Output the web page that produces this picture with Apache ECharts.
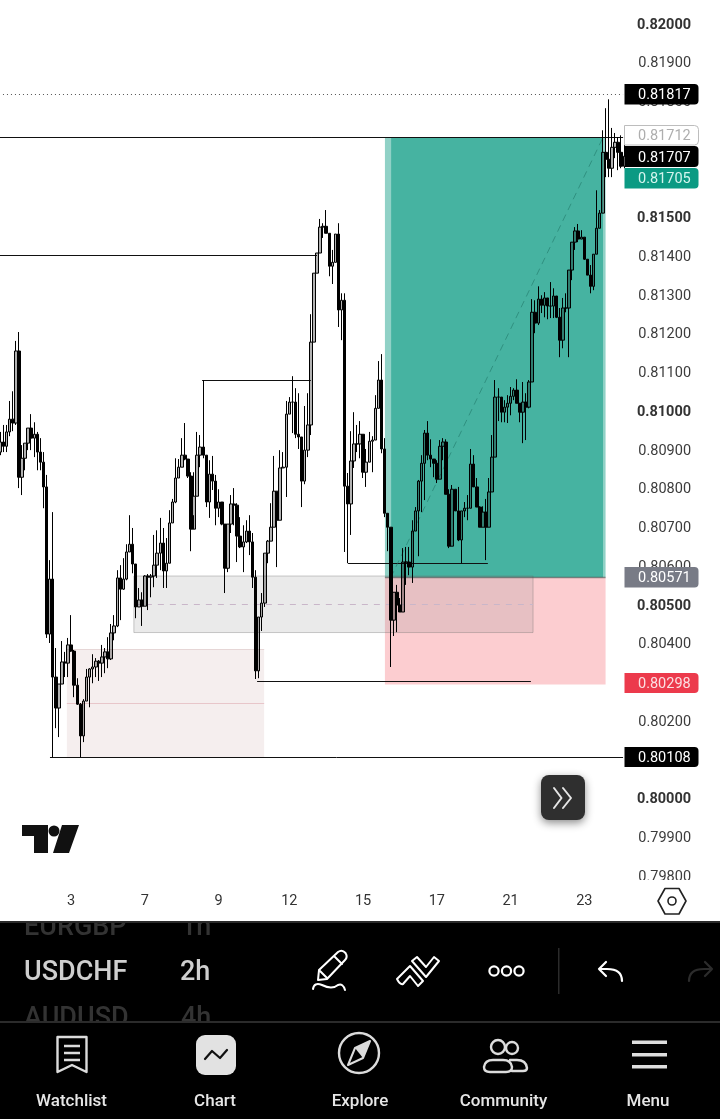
<!DOCTYPE html>
<html><head><meta charset="utf-8">
<style>html,body{margin:0;padding:0;background:#fff}#c{width:720px;height:1119px}</style>
<script src="https://cdn.jsdelivr.net/npm/echarts@6/dist/echarts.min.js"></script>
</head><body><div id="c"></div>
<script>
const POINT = 1e-5;
const firstOpen = 80892;
const closes = [80918,80907,80944,80977,80967,81153,80827,80876,80915,80954,
80928,80938,80892,80866,80802,80422,80564,80311,80231,80293,
80350,80347,80394,80378,80290,80241,80159,80249,80311,80332,
80337,80352,80347,80363,80376,80358,80425,80443,80567,80538,
80564,80634,80654,80603,80492,80510,80494,80572,80569,80572,
80600,80631,80657,80585,80605,80709,80763,80825,80853,80884,
80874,80830,80693,80778,80884,80905,80884,80763,80835,80817,
80747,80763,80706,80592,80706,80758,80755,80675,80647,80660,
80688,80660,80569,80327,80466,80502,80631,80662,80698,80791,
80716,80851,80853,80990,81021,81021,80938,80931,80817,80897,
80962,81176,81354,81406,81473,81475,81457,81372,81382,81455,
81259,81284,80804,80758,80869,80913,80913,80938,80840,80866,
80920,80923,81005,81078,80900,80734,80698,80458,80530,80497,
80479,80608,80608,80595,80688,80740,80817,80863,80941,80884,
80874,80863,80822,80907,80918,80783,80649,80796,80740,80665,
80740,80747,80747,80861,80802,80750,80698,80737,80698,80789,
80879,81034,81034,80995,81008,81018,81036,81052,81018,80995,
81021,81008,81073,81253,81225,81287,81271,81290,81269,81269,
81295,81240,81181,81264,81264,81362,81434,81463,81442,81447,
81390,81349,81320,81403,81470,81509,81666,81648,81625,81679,
81692,81666,81630,81656];
const highs = [80944,80962,80962,81024,81049,81179,81202,80910,80915,80954,
80990,80969,80944,80928,80892,80833,80613,80737,80386,80293,
80404,80376,80412,80471,80381,80308,80244,80254,80332,80334,
80370,80360,80355,80394,80386,80414,80448,80471,80587,80600,
80618,80654,80729,80696,80603,80541,80530,80574,80577,80577,
80678,80690,80722,80696,80670,80742,80771,80876,80874,80928,
80967,80874,80840,80840,80944,80936,81078,80884,80871,80882,
80833,80796,80763,80706,80706,80781,80799,80760,80724,80703,
80716,80729,80683,80587,80466,80528,80631,80665,80760,80882,
80791,80897,80892,81024,81034,81088,81057,81044,80931,81011,
81044,81248,81354,81406,81494,81483,81517,81457,81414,81455,
81483,81302,81302,80838,80946,80995,80962,80972,80938,80900,
80944,80933,81039,81127,81145,80928,80734,80698,80530,80549,
80515,80644,80647,80647,80716,80750,80820,80884,80949,80972,
80925,80874,80871,80923,80928,80925,80796,80807,80796,80802,
80740,80763,80781,80900,80884,80825,80752,80752,80771,80825,
80936,81078,81057,81034,81026,81039,81060,81057,81080,81018,
81073,81044,81078,81287,81284,81320,81297,81305,81290,81331,
81315,81295,81264,81290,81302,81362,81434,81473,81481,81465,
81447,81390,81375,81403,81568,81517,81723,81780,81803,81729,
81716,81705,81710,81710];
const lows = [80884,80892,80892,80933,80946,80962,80799,80781,80845,80897,
80897,80879,80845,80845,80747,80412,80399,80104,80179,80156,
80293,80311,80311,80376,80259,80239,80104,80143,80249,80233,
80295,80311,80301,80311,80321,80334,80355,80406,80440,80458,
80536,80561,80634,80579,80463,80492,80443,80494,80484,80517,
80543,80567,80587,80541,80541,80605,80709,80760,80825,80853,
80871,80825,80636,80729,80778,80853,80876,80750,80722,80794,
80703,80724,80703,80528,80582,80683,80703,80608,80644,80582,
80657,80626,80541,80306,80308,80430,80492,80605,80662,80698,
80595,80716,80851,80776,80990,80941,80928,80900,80750,80809,
80879,80936,81176,81354,81406,81445,81457,81346,81326,81382,
81215,81181,80634,80605,80678,80851,80892,80876,80825,80802,
80866,80840,80923,81005,80889,80724,80636,80337,80417,80427,
80479,80479,80549,80574,80554,80688,80623,80737,80768,80871,
80853,80827,80812,80822,80871,80783,80644,80649,80740,80662,
80605,80724,80716,80747,80802,80750,80698,80698,80613,80698,
80789,80879,80972,80969,80969,80967,80987,81026,81018,80969,
80915,80923,81005,81073,81199,81220,81251,81240,81235,81238,
81238,81238,81137,81160,81253,81137,81336,81414,81434,81442,
81388,81349,81302,81310,81403,81470,81509,81602,81602,81602,
81651,81620,81625,81625];
const opens = [firstOpen].concat(closes.slice(0, -1));

const dayLabels = {23:'3',47:'7',71:'9',94:'12',118:'15',142:'17',166:'21',190:'23'};
const slotCount = 234;
const categories = Array.from({length: slotCount}, (_, i) => String(i));
const candles = closes.map((c, i) => [opens[i]*POINT, c*POINT, lows[i]*POINT, highs[i]*POINT].map(v => +v.toFixed(5)));

const entryPrice = 0.80568, targetPrice = 0.81705, stopPrice = 0.80292;
const wickExtreme = 0.81817, lastLow = 0.80104;
const levelLines = [[-0.5,103,0.81401],[65.6,101,0.81078],[113.1,158.6,0.80606],[83.5,172.6,0.80301],[16.1,202.6,lastLow],[-0.5,202.6,0.81704]];
const diagonal = [[127,entryPrice],[196.1,targetPrice]];
const tagTexts = ['0.81817','0.81712','0.81707','0.81705','0.80571','0.80298','0.80108'];

const hl = levelLines.map(l => [{coord:[l[0],l[2]],lineStyle:{color:'#111',width:1,type:'solid'}},{coord:[l[1],l[2]]}]);
hl.push([{coord:[-0.5,wickExtreme],lineStyle:{color:'#555',width:1,type:[1,3]}},{coord:[202.6,wickExtreme]}]);
hl.push([{coord:[21.6,0.80243],lineStyle:{color:'#e8c6ca',width:1,type:'solid'}},{coord:[85.8,0.80243]}]);
hl.push([{coord:[21.6,0.80383],lineStyle:{color:'#e6d6d6',width:1,type:'solid'}},{coord:[85.8,0.80383]}]);
hl.push([{coord:[43.4,0.80500],lineStyle:{color:'#c9b6c9',width:1,type:[6,6]}},{coord:[173.3,0.80500]}]);

const area = (x1,x2,y1,y2,style) => [{coord:[x1,y1],itemStyle:style},{coord:[x2,y2]}];
const boxes = [
  area(21.6,85.8,lastLow,0.80383,{color:'#f5eeee'}),
  area(125.1,127.1,entryPrice,targetPrice,{color:'rgba(8,153,129,0.45)'}),
  area(127.1,196.1,entryPrice,targetPrice,{color:'rgba(8,153,129,0.75)'}),
  area(196.1,196.9,entryPrice,targetPrice,{color:'rgba(8,153,129,0.45)'}),
  area(125.1,196.9,stopPrice,entryPrice,{color:'rgba(242,54,69,0.25)'}),
  area(43.4,173.3,0.80426,0.80572,{color:'rgba(128,128,128,0.17)',borderColor:'rgba(110,110,110,0.35)',borderWidth:1}),
  area(125.1,196.9,0.80566,0.80570,{color:'rgba(70,70,70,0.55)'})
];

const R = 'Roboto, sans-serif';
let shapeId = 0;
function shapeFor(d){const name='icon'+(shapeId++);echarts.graphic.registerShape(name,echarts.graphic.extendPath(d,{}));return name;}
function txt(t,x,y,fill,font,align,z){return {type:'text',z:z,silent:true,style:{text:t,x:x,y:y,fill:fill,font:font,align:align||'left',verticalAlign:'middle',textAlign:align||'left',textVerticalAlign:'middle'}};}
function rect(x,y,w,h,fill,z,r,extra){return {type:'rect',z:z,silent:true,shape:{x:x,y:y,width:w,height:h,r:r||0},style:Object.assign({fill:fill},extra||{})};}
function path(d,stroke,lw,z,fill,cap){return {type:shapeFor(d),z:z,silent:true,style:{fill:fill||'none',stroke:stroke||'none',lineWidth:lw||0,lineCap:cap||'round',lineJoin:'round'}};}
function circ(cx,cy,r,stroke,lw,z,fill){return {type:'circle',z:z,silent:true,shape:{cx:cx,cy:cy,r:r},style:{fill:fill||'none',stroke:stroke,lineWidth:lw}};}

const tagStyles = [
 [84,20.5,'#000','#fff'],[125.5,19.5,'#fff','#aeaeae'],[146,21,'#000','#fff'],[168,20.5,'#0b9a83','#d4f5ee'],
 [567,20.5,'#787b86','#fff'],[673,20,'#ec3a4c','#fbdfe2'],[747,20,'#000','#fff']];
const TAGZ = 20;
const g = [];
tagTexts.forEach((t,i)=>{
  const s = tagStyles[i];
  const extra = i===1 ? {stroke:'#bdbdbd',lineWidth:1} : {};
  g.push(rect(624.5,s[0],74,s[1],s[2],TAGZ,[0,4,4,0],extra));
  g.push(txt(t,638,s[0]+s[1]/2+1.5,s[3],'14.5px '+R,'left',TAGZ+1));
});
// button + logo
g.push(rect(541,775,44,45,'#2f2f2f',TAGZ,8,{shadowBlur:9,shadowColor:'rgba(0,0,0,0.45)',shadowOffsetY:3}));
g.push(path('M554 788 L561.5 798 L554 808 M563 788 L571 798 L563 808','#e6e6e6',2,TAGZ+1));
g.push(path('M22 825 H48 V853 H34 V836 H22 Z M62 825 H79 L69 853 H53 Z',null,0,TAGZ,'#111'));
g.push(circ(54,831,5.5,'#111',0,TAGZ,'#111'));
// hexagon settings icon
g.push(path('M658 901 L665 888.5 H679 L686 901 L679 914 H665 Z','#222',1.6,41));
g.push(circ(672,901,4,'#222',1.6,41));
// dark toolbar
g.push(rect(0,921,720,198,'#000',30));
g.push(txt('EURGBP',24,928,'#333','500 27px '+R,'left',31));
g.push(txt('1h',181,928,'#333','500 27px '+R,'left',31));
g.push(txt('AUDUSD',24,1019,'#333','500 27px '+R,'left',31));
g.push(txt('4h',181,1019,'#333','500 27px '+R,'left',31));
g.push(rect(0,880,720,41,'#fff',32));
g.push(rect(0,1022,720,97,'#000',32));
g.push(rect(0,921,720,2,'#2b2b2b',33));
g.push(rect(0,1021,720,2,'#2b2b2b',33));
g.push(txt('USDCHF',24,973.5,'#cfcfcf','500 27px '+R,'left',33));
g.push(txt('2h',180,973.5,'#cfcfcf','500 27px '+R,'left',33));
// tool icons
g.push(path('M318 980 L319 970 L338 952 Q342 949 345.5 953 Q348 957 345 960 L327 979 Z M334 956 L342 964 M320 971 L327 978','#fff',2,33));
g.push(path('M313 989 Q314 982 322 985 Q332 990 338 985 Q343 983 345 990','#fff',2,33));
g.push(path('M397 979 L410 966 L423 981 L418 986 L410 976 L403 984 Q400 985 397 979 Z','#fff',2,33));
g.push(path('M417 957 L426 967 L434 957 L439 961 L426 977 L412 961 Z','#fff',2,33));
g.push(circ(494,971,4.6,'#fff',2.2,33)); g.push(circ(506.5,971,4.6,'#fff',2.2,33)); g.push(circ(519,971,4.6,'#fff',2.2,33));
g.push(rect(558,948,1.5,46,'#2b2b2b',33));
g.push(path('M622 981 Q622 969 607 969 L599 969 M606 962 L599 969 L606 976','#fff',2.2,33));
g.push(path('M689 981 Q689 969 704 969 L712 969 M705 962 L712 969 L705 976','#2c2c2c',2.2,33));
// nav icons
g.push(path('M57.5 1037 H86.5 V1072 L72 1065 L57.5 1072 Z M64 1046 H80 M64 1053 H80 M64 1060 H80','#dcdcdc',2.4,33,'none','butt'));
g.push(rect(196,1035,40,40,'#e2e2e2',33,9));
g.push(path('M205 1059 L212 1051 L220 1058 L227 1050','#111',2.2,34));
g.push(circ(359,1053,20,'#dcdcdc',2.4,33));
g.push(path('M370 1041 L363 1058 L348 1065 L355 1048 Z','#dcdcdc',2,33));
g.push(path('M370 1041 L363 1058 L355 1048 Z',null,0,33,'#dcdcdc'));
g.push(circ(498,1047,7,'#dcdcdc',2.4,33)); g.push(circ(512,1048,6,'#dcdcdc',2.4,33));
g.push(path('M490 1072 Q484 1072 484 1067 Q485 1060 493 1060 H503 Q511 1060 512 1067 Q512 1072 506 1072 Z','#dcdcdc',2.4,33));
g.push(path('M510 1060 H517 Q526 1060 527 1068 Q527 1071 523 1071 H512','#dcdcdc',2.4,33));
g.push(rect(632,1040.5,35,3.6,'#dedede',33)); g.push(rect(632,1053,35,3.6,'#dedede',33)); g.push(rect(632,1065,35,3.6,'#dedede',33));
[['Watchlist',71.5],['Chart',215],['Explore',360],['Community',503.5],['Menu',648]].forEach(n=>{
  g.push(txt(n[0],n[1],1101.5,'#e6e6e6','500 17px '+R,'center',33));
});

const chart = echarts.init(document.getElementById('c'),null,{renderer:'canvas',width:720,height:1119});
chart.setOption({
  animation:false,
  backgroundColor:'#fff',
  grid:{left:-1.04,top:-15.725,width:719.08,height:929.4,containLabel:false,outerBoundsMode:'none'},
  xAxis:[
    {type:'category',data:categories,boundaryGap:true,z:40,
     axisLine:{show:false},axisTick:{show:false},splitLine:{show:false},
     axisLabel:{inside:true,margin:5,interval:i=>dayLabels[i]!==undefined,formatter:(v,i)=>dayLabels[i]||'',color:'#333',fontFamily:'Roboto',fontSize:14.5,hideOverlap:false}},
    {type:'value',min:-0.5,max:slotCount-0.5,show:false}
  ],
  yAxis:{type:'value',position:'right',min:0.797,max:0.821,interval:0.001,z:1,scale:true,
    axisLine:{show:false},axisTick:{show:false},splitLine:{show:false},
    axisLabel:{inside:true,margin:27,align:'right',
      formatter:v=>{
        const k=Math.round(v*1000);
        if(k===797||k===821) return '';
        const s=(k/1000).toFixed(5);
        return k%5===0?'{b|'+s+'}':'{n|'+s+'}';
      },
      rich:{b:{fontFamily:'Roboto',fontSize:14.5,fontWeight:'bold',color:'#333',padding:[4,0,0,0]},n:{fontFamily:'Roboto',fontSize:14.5,color:'#3c3c3c',padding:[4,0,0,0]}}}},
  series:[
    {type:'line',name:'trade path',xAxisIndex:1,yAxisIndex:0,z:2,data:diagonal,showSymbol:false,symbol:'none',silent:true,
     lineStyle:{color:'rgba(30,115,100,0.55)',width:1,type:[7,5]},
     markArea:{silent:true,z:1,data:boxes},
     markLine:{silent:true,z:1,symbol:['none','none'],label:{show:false},animation:false,data:hl}},
    {type:'candlestick',name:'USDCHF',xAxisIndex:0,yAxisIndex:0,z:3,barWidth:3,data:candles,silent:true,
     itemStyle:{color:'rgba(0,0,0,0.3)',color0:'#000',borderColor:'#000',borderColor0:'#000',borderWidth:1}}
  ],
  graphic:{elements:g}
});
</script></body></html>
